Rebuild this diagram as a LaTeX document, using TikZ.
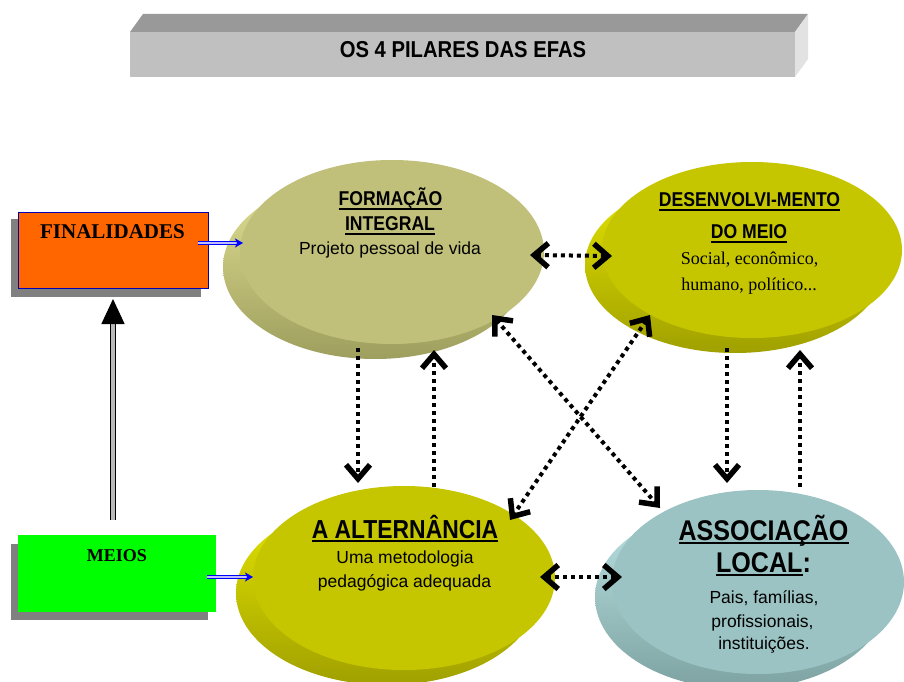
\documentclass[tikz,border=0pt]{standalone}
\usepackage{fontspec}
\setmainfont{Liberation Serif}
\setsansfont{Liberation Sans}
\newfontfamily\headfont{Liberation Sans}[FakeStretch=0.88]
\usetikzlibrary{shapes.geometric,arrows.meta,calc}
\newsavebox\ulbox
\newcommand\thul[1]{\sbox\ulbox{#1}\leavevmode\rlap{\usebox\ulbox}\rule[-4pt]{\wd\ulbox}{2pt}}
\definecolor{tgtop}{HTML}{999999}
\definecolor{tgfront}{HTML}{C0C0C0}
\definecolor{tgside}{HTML}{E2E2E2}
\definecolor{orangebox}{HTML}{FF6600}
\definecolor{greenbox}{HTML}{00FF00}
\definecolor{shadowgray}{HTML}{808080}
\definecolor{fiTop}{HTML}{C0C07A}
\definecolor{fiL}{HTML}{E2E294}
\definecolor{fiD}{HTML}{9E9E5E}
\definecolor{dmTop}{HTML}{C6C600}
\definecolor{dmL}{HTML}{E6E600}
\definecolor{dmD}{HTML}{A0A000}
\definecolor{asTop}{HTML}{9CC3C3}
\definecolor{asL}{HTML}{BCE4E4}
\definecolor{asD}{HTML}{7EA2A2}
\begin{document}
\begin{tikzpicture}[x=1pt,y=1pt,
  txt/.style={inner sep=0pt, anchor=base},
  head/.style={txt, font=\headfont\bfseries\fontsize{20}{24}\selectfont},
  bighead/.style={txt, font=\headfont\bfseries\fontsize{26}{30}\selectfont},
  hugehead/.style={txt, font=\headfont\bfseries\fontsize{28.5}{32}\selectfont},
  body/.style={txt, font=\sffamily\fontsize{17.5}{21}\selectfont},
  serifbody/.style={txt, font=\rmfamily\fontsize{18}{21}\selectfont},
  boxtext/.style={txt, font=\rmfamily\bfseries\fontsize{#1}{#1}\selectfont},
  topdisc/.style={ellipse, inner sep=0pt, minimum width=#1},
  basedisc/.style={ellipse, inner sep=0pt, minimum width=#1, shading angle=30},
  shadowbox/.style={rectangle, inner sep=0pt, fill=shadowgray},
  chev/.tip={Straight Barb[length=14pt,width=24pt,line width=5.5pt]},
  dotarrow/.style={line width=4pt, dash pattern=on 4pt off 4pt, -chev},
  dotboth/.style={line width=4pt, dash pattern=on 4pt off 4pt, chev-chev},
  bluearrow/.style={draw=blue, line width=0.9pt, double=blue!25, double distance=1.6pt,
     -{Stealth[length=8pt,width=9pt,inset=2pt]}},
  bigarrow/.style={draw=black, line width=1.4pt, double=gray!55, double distance=4pt,
     -{Triangle[length=25pt,width=23pt]}}
]
\useasboundingbox (0,0) rectangle (904,681);
\fill[white] (0,0) rectangle (904,681);

% title bar
\fill[tgtop] (130,649) -- (143,667) -- (808,667) -- (795,649) -- cycle;
\fill[tgside] (795,649) -- (808,667) -- (808,622) -- (795,604) -- cycle;
\node[rectangle, inner sep=0pt, fill=tgfront, minimum width=665, minimum height=45] (titlebar) at (462.5,626.5) {};
\node[txt, font=\headfont\bfseries\fontsize{23}{26}\selectfont] (title) at (463,623) {OS 4 PILARES DAS EFAS};

% discs: bases
\node[basedisc=304, minimum height=184, top color=fiL, bottom color=fiD] (fib) at (375,414) {};
\node[basedisc=300, minimum height=176, top color=dmL, bottom color=dmD] (dmb) at (735,416) {};
\node[basedisc=302, minimum height=184, top color=dmL, bottom color=dmD] (alb) at (387,88) {};
\node[basedisc=292, minimum height=184, top color=asL, bottom color=asD] (asb) at (741,84) {};
% discs: tops
\node[topdisc=304, minimum height=184, fill=fiTop] (fi) at (392,429) {};
\node[topdisc=300, minimum height=176, fill=dmTop] (dm) at (752,431) {};
\node[topdisc=302, minimum height=184, fill=dmTop] (al) at (404,103) {};
\node[topdisc=292, minimum height=184, fill=asTop] (as) at (758,99) {};

% disc texts
\node[head] (fi1) at (390.5,475) {\thul{FORMAÇÃO}};
\node[head] (fi2) at (390,450) {\thul{INTEGRAL}};
\node[body] (fi3) at (390,426) {Projeto pessoal de vida};

\node[head] (dm1) at (749.5,474) {\thul{DESENVOLVI-MENTO}};
\node[head] (dm2) at (749,442) {\thul{DO MEIO}};
\node[serifbody] (dm3) at (749.5,416) {Social, econômico,};
\node[serifbody] (dm4) at (749,391) {humano, político...};

\node[bighead] (al1) at (405,143) {\thul{A ALTERNÂNCIA}};
\node[body] (al2) at (405,118) {Uma metodologia};
\node[body] (al3) at (404.5,94) {pedagógica adequada};

\node[hugehead] (as1) at (763.5,141) {\thul{ASSOCIAÇÃO}};
\node[hugehead] (as2) at (763.5,109) {\thul{LOCAL}:};
\node[body] (as3) at (764,78) {Pais, famílias,};
\node[body] (as4) at (762.5,54) {profissionais,};
\node[body] (as5) at (764,32) {instituições.};

% left boxes
\node[shadowbox, minimum width=190, minimum height=78] (fins) at (106,423) {};
\node[rectangle, inner sep=0pt, fill=orangebox, draw=blue!70!black, line width=0.8pt, minimum width=190, minimum height=76] (fin) at (113,431) {};
\node[boxtext=21] (fint) at (112.5,442) {FINALIDADES};

\node[shadowbox, minimum width=197, minimum height=76] (mes) at (109.5,99) {};
\node[rectangle, inner sep=0pt, fill=greenbox, minimum width=198, minimum height=77] (me) at (117,107.5) {};
\node[boxtext=18] (met) at (117,120) {MEIOS};

% connectors
\draw[bluearrow] ($(fin.center)+(85,7)$) -- ($(fi.center)+(-149,9)$);
\draw[bluearrow] ($(me.center)+(90,-3.5)$) -- ($(al.center)+(-151,1)$);
\draw[bigarrow] ($(me.center)+(-4,53.5)$) -- ($(fin.center)+(0,-49)$);

\draw[dotboth] ($(fi.center)+(138,-3)$) -- ($(dm.center)+(-140,-6)$);
\draw[dotboth] ($(al.center)+(136,1)$) -- ($(as.center)+(-136,5)$);
\draw[dotarrow] ($(fi.center)+(-34,-96)$) -- ($(al.center)+(-46,95)$);
\draw[dotarrow] ($(al.center)+(30,91)$) -- ($(fi.center)+(42,-98)$);
\draw[dotarrow] ($(dm.center)+(-25,-98)$) -- ($(as.center)+(-31,99)$);
\draw[dotarrow] ($(as.center)+(42,95)$) -- ($(dm.center)+(48,-100)$);
\draw[dotboth] ($(fi.center)+(100,-63)$) -- ($(as.center)+(-98,74)$);
\draw[dotboth] ($(dm.center)+(-102,-65)$) -- ($(al.center)+(106,58)$);
\end{tikzpicture}
\end{document}
